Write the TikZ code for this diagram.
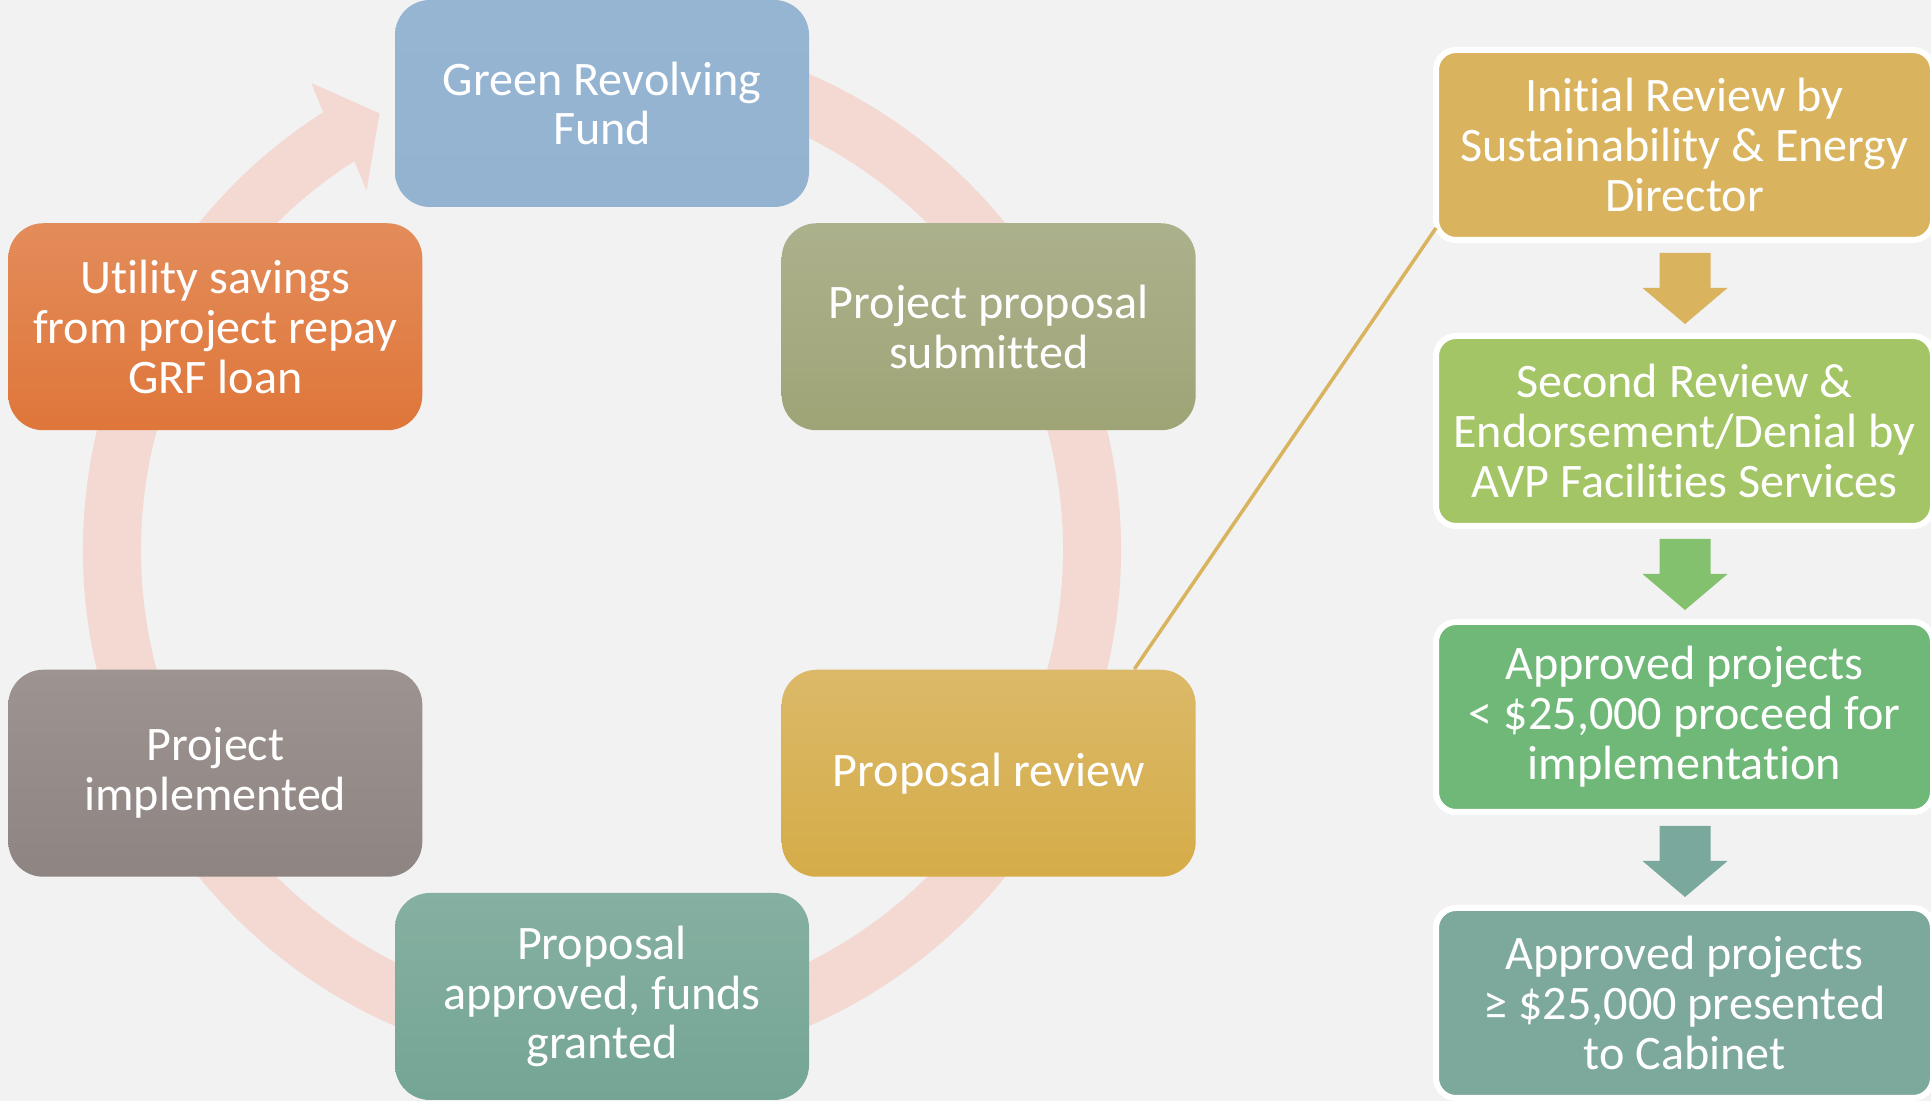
\documentclass[tikz,border=0pt]{standalone}
\usepackage{fontspec}
\setmainfont[Ligatures=NoCommon]{Carlito}
\usetikzlibrary{positioning}

\definecolor{bgcol}{RGB}{242,242,242}
\definecolor{ringcol}{RGB}{243,217,209}
\definecolor{goldcol}{RGB}{217,179,94}
\definecolor{lgreencol}{RGB}{163,197,102}
\definecolor{greencol}{RGB}{112,184,120}
\definecolor{tealcol}{RGB}{125,168,156}
\definecolor{arrgreen}{RGB}{132,193,110}
\definecolor{arrteal}{RGB}{122,168,156}

\begin{document}
\begin{tikzpicture}[cyc node/.style={rectangle, rounded corners=0.35cm, minimum width=4.14cm, minimum height=2.07cm, inner sep=0pt},
    step node/.style={rectangle, draw=white, line width=0.06cm, rounded corners=0.2cm, minimum width=4.97cm, minimum height=1.90cm, inner sep=0pt, outer sep=0pt},
    every node/.style={font=\fontsize{13.7}{14.2}\selectfont, text=white, align=center}]
            \fill[bgcol] (0,0) rectangle (19.31,-11.01);
            \useasboundingbox (0,0) rectangle (19.31,-11.01);

            % cycle
            \begin{scope}[shift={(6.02,-5.50)}]
                \fill[ringcol] (80:5.19) arc[start angle=80, end angle=-237.5, radius=5.19] -- (121.9:5.50) -- (117:4.90) -- (123.2:4.30) -- (-237.5:4.61) arc[start angle=-237.5, end angle=80, radius=4.61] -- cycle;

                \node [cyc node, top color={rgb,255:red,149;green,181;blue,211}, bottom color={rgb,255:red,148;green,179;blue,209}](grf) at (90:4.465){Green Revolving\\Fund};
                \node [cyc node, top color={rgb,255:red,172;green,177;blue,141}, bottom color={rgb,255:red,159;green,164;blue,118}](submit) at (30:4.465){Project proposal\\submitted};
                \node [cyc node, top color={rgb,255:red,219;green,185;blue,104}, bottom color={rgb,255:red,213;green,172;blue,72}](review) at (-30:4.465){Proposal review};
                \node [cyc node, top color={rgb,255:red,134;green,176;blue,161}, bottom color={rgb,255:red,116;green,165;blue,149}](approved) at (-90:4.465){Proposal\\approved, funds\\granted};
                \node [cyc node, top color={rgb,255:red,157;green,148;blue,145}, bottom color={rgb,255:red,142;green,132;blue,130}](impl) at (-150:4.465){Project\\implemented};
                \node [cyc node, top color={rgb,255:red,227;green,140;blue,90}, bottom color={rgb,255:red,223;green,118;blue,58}](util) at (150:4.465){Utility savings\\from project repay\\GRF loan};
            \end{scope}

            % review steps
            \node [step node, fill=goldcol](init) at (16.845,-1.45){Initial Review by\\Sustainability \& Energy\\Director};
            \node [step node, fill=lgreencol](second) [below=0.96cm of init]{Second Review \&\\Endorsement/Denial by\\AVP Facilities Services};
            \node [step node, fill=greencol](small) [below=0.96cm of second]{Approved projects\\< \$25,000 proceed for\\implementation};
            \node [step node, fill=tealcol](large) [below=0.96cm of small]{Approved projects\\≥ \$25,000 presented\\to Cabinet};

            \draw[goldcol, line width=0.035cm] ([xshift=-0.62cm]review.north east) -- ([yshift=0.12cm]init.south west);

            \foreach \ty/\col in {2.53/goldcol, 5.39/arrgreen, 8.26/arrteal}
                \fill[\col] (16.595,-\ty) -- (17.105,-\ty) -- (17.105,{-\ty-0.35}) -- (17.275,{-\ty-0.35}) -- (16.85,{-\ty-0.71}) -- (16.425,{-\ty-0.35}) -- (16.595,{-\ty-0.35}) -- cycle;
        \end{tikzpicture}
\end{document}
